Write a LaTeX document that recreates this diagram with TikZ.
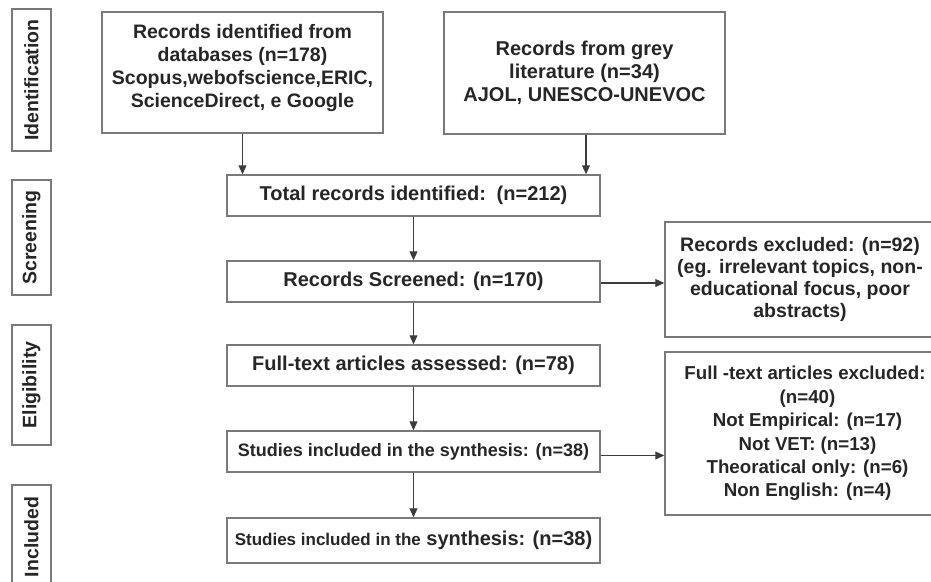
\documentclass[tikz,border=0pt]{standalone}
\usepackage{fontspec}
\setmainfont{Liberation Sans}
\usepackage{tikz}
\usetikzlibrary{arrows.meta}
\definecolor{boxgray}{HTML}{7a7a7a}
\definecolor{txt}{HTML}{262626}
\tikzset{
box/.style={draw=boxgray, line width=1.5pt, inner sep=0pt, align=center, text=txt,
  font=\bfseries\fontsize{20}{23}\selectfont},
side/.style={box, rotate=90, minimum height=39pt, font=\bfseries\fontsize{19.5}{22}\selectfont},
arr/.style={draw=txt!90, line width=1.1pt, -{Triangle[length=9pt,width=8pt]}}
}
\begin{document}
\begin{tikzpicture}[x=1pt,y=-1pt]
\useasboundingbox (0,0) rectangle (931,581);
\node[side, minimum width=142pt] (ident) at (31.5,80) {Identification};
\node[side, minimum width=115pt] (screen) at (31.5,237.5) {Screening};
\node[side, minimum width=120pt] (elig) at (31.5,385) {Eligibility};
\node[side, minimum width=104pt] (incl) at (31.5,537) {Included};
\node[box, minimum width=281pt, minimum height=121pt, font=\bfseries\fontsize{19.5}{23}\selectfont] (db) at (242.5,72.5)
  {Records identified from\\databases (n=178)\\Scopus,webofscience,ERIC,\\ScienceDirect, e Google\\[-10pt]};
\node[box, minimum width=281pt, minimum height=122pt] (grey) at (584.5,73)
  {Records from grey\\literature (n=34)\\AJOL, UNESCO-UNEVOC};
\node[box, minimum width=373pt, minimum height=41pt] (total) at (413.5,195.5) {Total records identified:\, (n=212)};
\node[box, minimum width=373pt, minimum height=41pt] (scr) at (413.5,281.5) {Records Screened: (n=170)};
\node[box, minimum width=373pt, minimum height=41pt] (fta) at (413.5,365.5) {Full-text articles assessed: (n=78)};
\node[box, minimum width=373pt, minimum height=41pt, font=\bfseries\fontsize{18}{21}\selectfont] (stud) at (413.5,451.5)
  {Studies included in the synthesis: (n=38)};
\node[box, minimum width=373pt, minimum height=45pt] (final) at (413.5,540.5)
  {{\fontsize{17}{20}\selectfont Studies included in the} synthesis: (n=38)};
\node[box, minimum width=285pt, minimum height=115pt, font=\bfseries\fontsize{19.5}{22}\selectfont] (recexcl) at (807.5,279.5)
  {\hspace*{-15pt}Records excluded: (n=92)\\\hspace*{-15pt}(eg. irrelevant topics, non-\\\hspace*{-15pt}educational focus, poor\\\hspace*{-15pt}abstracts)};
\node[box, minimum width=285pt, minimum height=163pt, font=\bfseries\fontsize{18.7}{23.4}\selectfont] (ftexcl) at (807.5,433.5)
  {\hspace*{-5pt}Full -text articles excluded:\\(n=40)\\Not Empirical: (n=17)\\Not VET: (n=13)\\Theoratical only: (n=6)\\Non English: (n=4)};
\draw[arr] (db.south) -- (db.south |- total.north);
\draw[arr] ([xshift=1.5pt]grey.south) -- ([xshift=1.5pt]grey.south |- total.north);
\draw[arr] (total) -- (scr);
\draw[arr] (scr) -- (fta);
\draw[arr] (fta) -- (stud);
\draw[arr] (stud) -- (final);
\draw[arr] ([yshift=-1.5pt]scr.east) -- ([yshift=-1.5pt]scr.east -| recexcl.west);
\draw[arr] ([yshift=-4pt]stud.east) -- ([yshift=-4pt]stud.east -| ftexcl.west);
\end{tikzpicture}
\end{document}
